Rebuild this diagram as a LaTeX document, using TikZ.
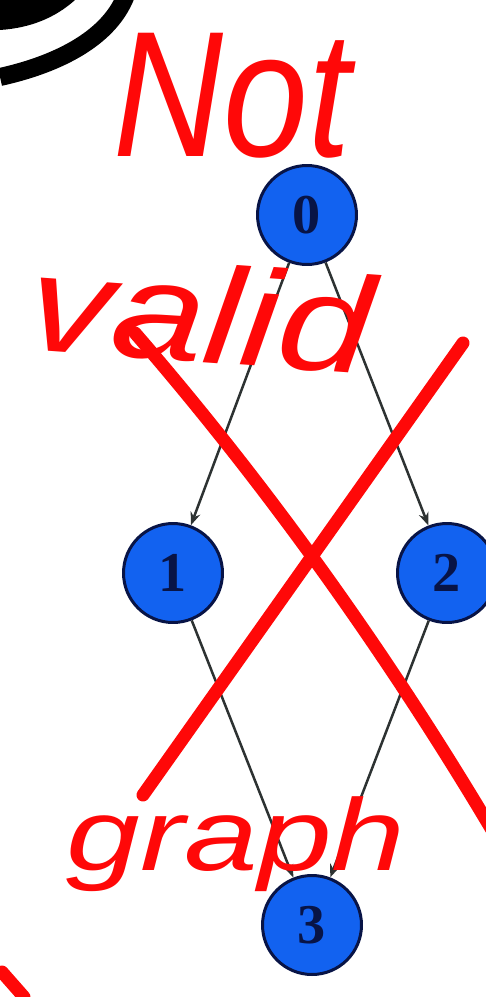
\documentclass[tikz,border=0pt]{standalone}
\usepackage{fontspec}
\setmainfont{Liberation Serif}
\newfontfamily\handfont{Liberation Sans}
\usetikzlibrary{arrows.meta}

\definecolor{nodeblue}{RGB}{18,98,240}
\definecolor{nodeline}{RGB}{8,20,70}
\definecolor{edgegray}{RGB}{45,50,50}
\definecolor{inkred}{RGB}{255,8,8}

\begin{document}
\begin{tikzpicture}[
  x=0.02cm, y=-0.02cm,
  vertex/.style={circle, draw=nodeline, line width=0.06cm, fill=nodeblue,
    minimum size=1.98cm, inner sep=0pt, text=nodeline,
    font=\fontsize{32}{32}\selectfont\bfseries},
  link/.style={-{Stealth[length=0.26cm, width=0.2cm]}, edgegray, line width=0.05cm},
  ink/.style={inkred, line width=0.26cm, line cap=round, line join=round},
  hand/.style={text=inkred, inner sep=0pt, anchor=base, text depth=0pt,
    font=\handfont\itshape},
]
\useasboundingbox (0,0) rectangle (486,997);
\clip (0,0) rectangle (486,997);

% Black pen marks, top left
\fill[black] (0,0) -- (75,0) .. controls (55,18) and (30,28) .. (0,30) -- cycle;
\draw[black, line width=0.36cm] (0,77) .. controls (50,66) and (108,42) .. (126,-5);

% Graph
\node[vertex] (n0) at (307,215) {0};
\node[vertex] (n1) at (173,573) {1};
\node[vertex] (n2) at (447,573) {2};
\node[vertex] (n3) at (312,925) {3};

\draw[link] (n0) -- (n1);
\draw[link] (n0) -- (n2);
\draw[link] (n1) -- (n3);
\draw[link] (n2) -- (n3);

% Red cross
\draw[ink] (135,333) .. controls (245,460) and (370,625) .. (492,830);
\draw[ink] (463,343) -- (143,795);
\draw[ink] (2,972) -- (24,997);

% Handwritten notes
\node[hand, xscale=0.85, text height=0.72em,
  font=\handfont\itshape\fontsize{102}{102}\selectfont]
  (not) at (232,156) {Not};
\node[hand, xscale=1.22, rotate=-5, text height=0.74em,
  font=\handfont\itshape\fontsize{78}{78}\selectfont]
  (valid) at (196,362) {valid};
\node[hand, xscale=1.3, text height=0.74em,
  font=\handfont\itshape\fontsize{58}{58}\selectfont]
  (graph) at (236,870) {graph};

\end{tikzpicture}
\end{document}
